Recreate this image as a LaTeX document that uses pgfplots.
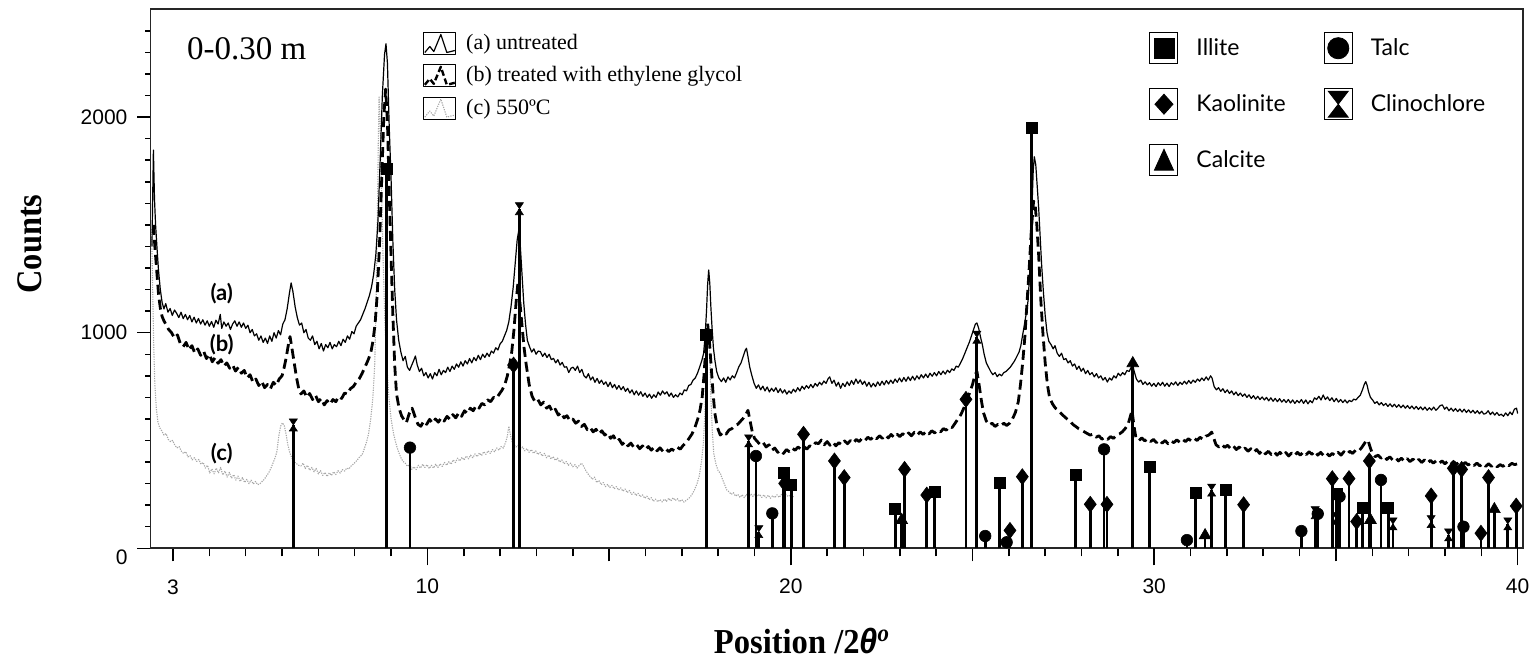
\documentclass[border=0pt]{standalone}
\usepackage{pgfplots}
\pgfplotsset{compat=1.18}
\usepackage{fontspec}
\usepackage{graphicx}
\setmainfont{Liberation Serif}
\newfontfamily\arialf{Liberation Sans}
\newfontfamily\gill{Lato}

\pgfdeclareplotmark{hourglass}{%
 \pgfpathmoveto{\pgfqpoint{-\pgfplotmarksize}{1.5\pgfplotmarksize}}%
 \pgfpathlineto{\pgfqpoint{\pgfplotmarksize}{1.5\pgfplotmarksize}}%
 \pgfpathlineto{\pgfqpoint{-\pgfplotmarksize}{-1.5\pgfplotmarksize}}%
 \pgfpathlineto{\pgfqpoint{\pgfplotmarksize}{-1.5\pgfplotmarksize}}%
 \pgfpathclose
 \pgfusepathqfillstroke}

\pgfplotsset{
 stick/.style={ycomb, black, line width=1.4pt, forget plot, mark options={solid, line width=0.3pt, fill=black}},
 curvea/.style={black, line width=0.6pt, line join=round,
   legend image code/.code={\draw[solid,black,line width=0.4pt] (0pt,-5.5pt) rectangle (16pt,5.5pt);
   \draw[##1] (0.5pt,-4.5pt) -- (3pt,-1.5pt) -- (5pt,-4pt) -- (8.5pt,4.5pt) -- (11.5pt,-4.5pt) -- (15.5pt,-3.5pt);}},
 curveb/.style={black, line width=1.4pt, dash pattern=on 5pt off 2.5pt, line join=round,
   legend image code/.code={\draw[solid,black,line width=0.4pt] (0pt,-5.5pt) rectangle (16pt,5.5pt);
   \draw[##1, dash pattern=on 3pt off 1.5pt, line width=1.2pt] (0.5pt,-4.5pt) -- (3pt,-1.5pt) -- (5pt,-4pt) -- (8.5pt,4.5pt) -- (11.5pt,-4.5pt) -- (15.5pt,-3.5pt);}},
 curvec/.style={gray!70, line width=0.55pt, dash pattern=on 0.6pt off 0.6pt, line join=round,
   legend image code/.code={\draw[solid,black,line width=0.4pt] (0pt,-5.5pt) rectangle (16pt,5.5pt);
   \draw[##1] (0.5pt,-4.5pt) -- (3pt,-1.5pt) -- (5pt,-4pt) -- (8.5pt,4.5pt) -- (11.5pt,-4.5pt) -- (15.5pt,-3.5pt);}},
 minleg/.style={legend image code/.code={\draw[black,line width=0.5pt] (0pt,-7.75pt) rectangle (14pt,7.75pt); #1}},
}

\begin{document}
\begin{tikzpicture}
\path[use as bounding box] (-75.25pt,-56.85pt) rectangle (690.25pt,274.15pt);
\begin{axis}[
 scale only axis, width=686.1pt, height=269.5pt,
 xmin=2.38, xmax=40.14, ymin=0, ymax=2500,
 clip=false,
 axis line style={line width=0.9pt, black!85},
 tick align=outside, tick pos=left,
 every tick/.style={black, line width=0.75pt},
 major tick length=6.5pt, minor tick length=4pt,
 xtick={3,15,25,35}, xticklabels={\raisebox{-2.5pt}[\height][0pt]{3},{},{},{}},
 minor xtick={4,5,6,7,8,9,11,12,13,14,16,17,18,19,21,22,23,24,26,27,28,29,31,32,33,34,36,37,38,39},
 extra x ticks={10,20,30,40}, extra x tick labels={10,20,30,40},
 extra x tick style={major tick length=8.5pt},
 ytick={0,1000,2000}, yticklabels={\raisebox{-4.5pt}[\height][0pt]{0},1000,2000},
 extra y ticks={100,200,300,400,500,600,700,800,900,1100,1200,1300,1400,1500,1600,1700,1800,1900,2100,2200,2300,2400},
 extra y tick labels={},
 extra y tick style={major tick length=2.5pt},
 xticklabel style={font=\arialf\fontsize{10.5}{12}\selectfont, yshift=-3pt},
 yticklabel style={font=\arialf\fontsize{10.5}{12}\selectfont, xshift=-1.5pt},
 legend cell align=left,
 legend style={at={(rel axis cs:0.1986,0.9616)}, anchor=north west, draw=none, fill=none,
   inner sep=0pt, row sep=3pt, font=\fontsize{11}{13}\selectfont,
   /tikz/every odd column/.append style={column sep=3pt}},
]
\addlegendimage{curvea}
\addlegendentry{(a) untreated}
\addlegendimage{curveb}
\addlegendentry{(b) treated with ethylene glycol}
\addlegendimage{curvec}
\addlegendentry{(c) 550ºC}
% (c) 550 C
\addplot[curvec, forget plot]
coordinates {
(2.41,1480) (2.44,1200) (2.47,930) (2.50,760) (2.54,650) (2.58,590) (2.63,560) (2.69,545) (2.75,525) (2.81,532) (2.87,505) (2.93,495) (2.99,500)
(3.05,478) (3.11,466) (3.17,472) (3.23,450) (3.29,440) (3.35,448) (3.41,424) (3.47,430) (3.53,410) (3.59,420) (3.65,403) (3.71,412) (3.77,390)
(3.83,398) (3.89,372) (3.95,385) (4.01,349) (4.07,368) (4.13,345) (4.19,372) (4.25,350) (4.31,375) (4.37,340) (4.43,358) (4.49,330) (4.55,352)
(4.61,325) (4.67,342) (4.73,316) (4.79,335) (4.85,310) (4.91,328) (4.97,305) (5.03,320) (5.09,300) (5.15,316) (5.21,298) (5.27,310) (5.33,295)
(5.39,299) (5.45,310) (5.51,320) (5.57,335) (5.63,349) (5.69,370) (5.75,395) (5.81,420) (5.86,450) (5.91,520) (5.96,566) (6.01,582) (6.06,570)
(6.11,530) (6.16,480) (6.22,440) (6.28,416) (6.34,400) (6.40,392) (6.46,385) (6.52,382) (6.58,395) (6.64,370) (6.70,385) (6.76,362) (6.82,375)
(6.88,355) (6.94,370) (7.00,345) (7.06,360) (7.12,338) (7.18,352) (7.24,333) (7.30,350) (7.36,338) (7.42,355) (7.48,342) (7.54,360) (7.60,349)
(7.66,365) (7.72,358) (7.78,372) (7.84,368) (7.90,382) (7.96,390) (8.02,400) (8.08,412) (8.14,425) (8.20,433) (8.26,460) (8.32,490) (8.38,530)
(8.44,600) (8.50,700) (8.55,850) (8.59,1150) (8.62,1500) (8.65,1900) (8.67,2097) (8.70,1950) (8.74,1650) (8.78,1350) (8.83,1050) (8.88,860)
(8.94,700) (9.00,600) (9.07,530) (9.14,482) (9.20,450) (9.27,420) (9.33,403) (9.39,395) (9.45,380) (9.51,390) (9.57,366) (9.63,378) (9.69,365)
(9.75,385) (9.81,372) (9.87,390) (9.93,375) (9.99,388) (10.05,370) (10.11,385) (10.17,372) (10.23,390) (10.29,375) (10.35,392) (10.41,380)
(10.47,398) (10.53,385) (10.59,402) (10.65,390) (10.71,410) (10.77,398) (10.83,418) (10.89,405) (10.95,422) (11.01,410) (11.07,428) (11.13,415)
(11.19,432) (11.25,420) (11.31,438) (11.37,425) (11.43,442) (11.49,430) (11.55,448) (11.61,436) (11.67,452) (11.73,440) (11.79,458) (11.85,448)
(11.91,465) (11.97,455) (12.03,472) (12.09,465) (12.15,490) (12.20,520) (12.24,566) (12.28,530) (12.33,495) (12.38,482) (12.44,470) (12.50,478)
(12.56,460) (12.62,470) (12.68,452) (12.74,462) (12.80,445) (12.86,458) (12.92,440) (12.98,452) (13.04,435) (13.10,445) (13.16,428) (13.22,440)
(13.28,420) (13.34,432) (13.40,414) (13.46,425) (13.52,408) (13.58,418) (13.64,400) (13.70,410) (13.76,392) (13.82,402) (13.88,385) (13.94,395)
(14.00,378) (14.06,388) (14.12,372) (14.18,385) (14.24,395) (14.30,380) (14.36,360) (14.42,345) (14.48,332) (14.54,320) (14.60,330) (14.66,305)
(14.72,315) (14.78,295) (14.84,305) (14.90,286) (14.96,296) (15.02,282) (15.08,292) (15.14,276) (15.20,286) (15.26,270) (15.32,280) (15.38,265)
(15.44,275) (15.50,258) (15.56,268) (15.62,250) (15.68,260) (15.74,245) (15.80,255) (15.86,239) (15.92,248) (15.98,232) (16.04,242) (16.10,225)
(16.16,235) (16.22,218) (16.28,228) (16.34,216) (16.40,226) (16.46,215) (16.52,228) (16.58,218) (16.64,232) (16.70,220) (16.76,234) (16.82,222)
(16.88,230) (16.94,216) (17.00,226) (17.06,214) (17.12,222) (17.18,230) (17.24,240) (17.30,255) (17.36,275) (17.42,300) (17.48,335) (17.54,400)
(17.59,480) (17.63,600) (17.67,800) (17.71,960) (17.74,997) (17.77,900) (17.80,700) (17.84,540) (17.88,440) (17.94,390) (18.00,360) (18.06,348)
(18.12,320) (18.18,295) (18.24,270) (18.30,262) (18.36,250) (18.42,258) (18.48,242) (18.54,250) (18.60,236) (18.66,248) (18.72,235) (18.78,250)
(18.84,238) (18.90,252) (18.96,240) (19.02,255) (19.08,242) (19.14,250) (19.20,236) (19.26,248) (19.32,234) (19.38,246) (19.44,232) (19.50,244)
(19.56,235) (19.62,248) (19.68,236) (19.74,250) (19.80,238) (19.86,252) (19.92,240) (19.98,246) (20.04,239) (20.08,240)
};
% (a) untreated
\addplot[curvea, forget plot]
coordinates {
(2.42,1400) (2.46,1847) (2.49,1620) (2.52,1500) (2.56,1390) (2.60,1290) (2.65,1200) (2.70,1140) (2.75,1110) (2.80,1135) (2.86,1095) (2.92,1112)
(2.98,1080) (3.04,1105) (3.10,1090) (3.16,1070) (3.22,1095) (3.28,1065) (3.34,1085) (3.40,1060) (3.46,1080) (3.52,1050) (3.58,1072) (3.64,1045)
(3.70,1066) (3.76,1040) (3.82,1060) (3.88,1035) (3.94,1055) (4.00,1030) (4.06,1052) (4.12,1025) (4.18,1058) (4.24,1040) (4.30,1085) (4.34,1020)
(4.40,1050) (4.46,1030) (4.52,1045) (4.58,1015) (4.64,1040) (4.70,1055) (4.76,1030) (4.82,1050) (4.88,1025) (4.94,1045) (5.00,1020) (5.06,1035)
(5.12,1000) (5.18,1015) (5.24,985) (5.30,995) (5.36,965) (5.42,985) (5.48,955) (5.54,975) (5.60,950) (5.66,985) (5.72,960) (5.78,1000) (5.84,975)
(5.90,1010) (5.96,990) (6.02,1040) (6.08,1060) (6.14,1110) (6.20,1180) (6.25,1231) (6.30,1190) (6.36,1120) (6.42,1070) (6.48,1035) (6.54,1045)
(6.60,1000) (6.66,1015) (6.72,975) (6.78,965) (6.84,985) (6.90,945) (6.96,960) (7.02,925) (7.08,950) (7.14,915) (7.20,945) (7.26,930) (7.32,955)
(7.38,925) (7.44,945) (7.50,935) (7.56,960) (7.62,940) (7.68,970) (7.74,955) (7.80,985) (7.86,970) (7.92,1005) (7.98,995) (8.04,1030) (8.10,1045)
(8.16,1060) (8.22,1085) (8.28,1110) (8.34,1140) (8.40,1170) (8.46,1210) (8.52,1270) (8.58,1360) (8.64,1520) (8.70,1800) (8.76,2100) (8.82,2290)
(8.86,2340) (8.90,2250) (8.95,1950) (9.00,1714) (9.05,1420) (9.10,1200) (9.15,1060) (9.21,965) (9.27,910) (9.33,870) (9.39,890) (9.45,840)
(9.51,825) (9.57,850) (9.62,870) (9.67,892) (9.72,850) (9.78,820) (9.84,835) (9.90,800) (9.96,815) (10.02,790) (10.08,810) (10.14,785) (10.20,815)
(10.26,800) (10.32,830) (10.38,805) (10.44,825) (10.50,815) (10.56,840) (10.62,820) (10.68,845) (10.74,830) (10.80,855) (10.86,840) (10.92,865)
(10.98,845) (11.04,870) (11.10,855) (11.16,880) (11.22,860) (11.28,885) (11.34,870) (11.40,895) (11.46,875) (11.52,900) (11.58,885) (11.64,905)
(11.70,890) (11.76,915) (11.82,905) (11.88,930) (11.94,920) (12.00,948) (12.06,960) (12.12,985) (12.18,1010) (12.24,1050) (12.30,1120) (12.36,1210)
(12.42,1330) (12.47,1430) (12.51,1470) (12.55,1420) (12.60,1280) (12.65,1140) (12.70,1040) (12.75,965) (12.81,935) (12.87,910) (12.93,925)
(12.99,900) (13.05,915) (13.11,912) (13.17,890) (13.23,905) (13.29,885) (13.35,900) (13.41,875) (13.47,881) (13.53,860) (13.59,875) (13.65,850)
(13.71,862) (13.77,840) (13.83,842) (13.89,815) (13.95,835) (14.01,840) (14.07,825) (14.13,845) (14.19,815) (14.25,830) (14.31,800) (14.37,790)
(14.43,810) (14.49,781) (14.55,795) (14.61,770) (14.67,788) (14.73,765) (14.79,780) (14.85,760) (14.91,772) (14.97,750) (15.03,770) (15.09,745)
(15.15,760) (15.21,738) (15.27,755) (15.33,735) (15.39,750) (15.45,728) (15.51,742) (15.57,720) (15.63,735) (15.69,712) (15.75,730) (15.81,710)
(15.87,726) (15.93,705) (15.99,720) (16.05,700) (16.11,715) (16.17,696) (16.23,712) (16.29,700) (16.35,725) (16.41,710) (16.47,730) (16.53,715)
(16.59,726) (16.65,705) (16.71,720) (16.77,700) (16.83,712) (16.89,702) (16.95,720) (17.01,712) (17.07,735) (17.13,730) (17.19,755) (17.25,760)
(17.31,780) (17.37,790) (17.43,811) (17.49,840) (17.55,870) (17.60,904) (17.64,980) (17.68,1100) (17.71,1220) (17.74,1291) (17.77,1230)
(17.80,1120) (17.83,1030) (17.87,930) (17.91,873) (17.96,820) (18.02,790) (18.09,773) (18.15,790) (18.21,770) (18.27,795) (18.33,781) (18.39,800)
(18.45,790) (18.51,815) (18.57,842) (18.63,860) (18.69,890) (18.75,920) (18.78,928) (18.82,890) (18.87,840) (18.93,800) (18.99,765) (19.05,742)
(19.11,758) (19.17,735) (19.23,752) (19.29,730) (19.35,748) (19.41,725) (19.47,742) (19.53,728) (19.59,745) (19.65,722) (19.71,740) (19.77,720)
(19.83,735) (19.89,715) (19.95,730) (20.01,719) (20.07,738) (20.13,725) (20.19,745) (20.25,730) (20.31,752) (20.37,738) (20.43,755) (20.49,742)
(20.55,760) (20.61,745) (20.67,765) (20.73,752) (20.79,770) (20.85,758) (20.91,776) (20.97,765) (21.03,788) (21.07,795) (21.13,765) (21.19,780)
(21.25,752) (21.31,770) (21.37,742) (21.43,765) (21.49,750) (21.55,772) (21.61,755) (21.67,778) (21.73,760) (21.79,785) (21.85,765) (21.91,781)
(21.97,760) (22.03,775) (22.09,752) (22.15,770) (22.21,748) (22.27,765) (22.33,750) (22.39,772) (22.45,755) (22.51,775) (22.57,758) (22.63,778)
(22.69,762) (22.75,780) (22.81,765) (22.87,785) (22.93,770) (22.99,790) (23.05,772) (23.11,792) (23.17,775) (23.23,795) (23.29,778) (23.35,798)
(23.41,780) (23.47,800) (23.53,785) (23.59,805) (23.65,790) (23.71,808) (23.77,792) (23.83,812) (23.89,798) (23.95,815) (24.01,800) (24.07,820)
(24.13,805) (24.19,822) (24.25,808) (24.31,826) (24.37,815) (24.43,832) (24.49,825) (24.55,845) (24.61,840) (24.67,860) (24.73,880) (24.79,905)
(24.85,930) (24.91,955) (24.97,985) (25.03,1015) (25.08,1040) (25.12,1045) (25.17,1020) (25.22,980) (25.27,945) (25.32,900) (25.38,860) (25.44,840)
(25.50,820) (25.56,805) (25.62,815) (25.68,796) (25.74,808) (25.80,800) (25.86,815) (25.92,820) (25.98,830) (26.04,840) (26.10,855) (26.16,870)
(26.22,890) (26.28,910) (26.33,940) (26.38,990) (26.43,1040) (26.48,1090) (26.53,1150) (26.58,1300) (26.63,1550) (26.67,1750) (26.70,1816)
(26.74,1780) (26.78,1680) (26.82,1580) (26.86,1450) (26.90,1320) (26.95,1190) (27.00,1080) (27.05,1000) (27.10,960) (27.16,945) (27.22,925)
(27.27,940) (27.33,905) (27.39,890) (27.45,905) (27.51,875) (27.57,880) (27.63,860) (27.69,870) (27.75,845) (27.81,855) (27.87,830) (27.93,845)
(27.99,821) (28.05,835) (28.11,810) (28.17,825) (28.23,805) (28.29,815) (28.35,795) (28.41,810) (28.47,790) (28.53,800) (28.59,780) (28.65,792)
(28.71,771) (28.77,790) (28.83,780) (28.89,800) (28.95,790) (29.01,812) (29.07,800) (29.13,815) (29.19,805) (29.25,825) (29.31,820) (29.37,840)
(29.41,848) (29.45,820) (29.51,785) (29.57,771) (29.63,780) (29.69,760) (29.75,772) (29.81,758) (29.87,768) (29.93,752) (29.99,765) (30.05,750)
(30.11,768) (30.17,755) (30.23,770) (30.29,752) (30.35,766) (30.41,750) (30.47,768) (30.53,758) (30.59,772) (30.65,755) (30.71,770) (30.77,760)
(30.83,775) (30.89,762) (30.95,778) (31.01,765) (31.07,780) (31.13,770) (31.19,785) (31.25,775) (31.31,790) (31.37,778) (31.43,795) (31.49,780)
(31.55,800) (31.59,790) (31.65,750) (31.71,735) (31.77,745) (31.83,728) (31.89,740) (31.95,722) (32.01,735) (32.07,718) (32.13,730) (32.19,712)
(32.25,725) (32.31,708) (32.37,720) (32.43,705) (32.49,716) (32.55,700) (32.61,712) (32.67,695) (32.73,708) (32.79,692) (32.85,705) (32.91,690)
(32.97,702) (33.03,688) (33.09,700) (33.15,684) (33.21,698) (33.27,682) (33.33,695) (33.39,680) (33.45,694) (33.51,678) (33.57,690) (33.63,676)
(33.69,690) (33.75,674) (33.81,688) (33.87,672) (33.93,686) (33.99,675) (34.05,690) (34.11,672) (34.17,688) (34.23,670) (34.29,685) (34.35,675)
(34.41,698) (34.47,690) (34.53,705) (34.59,688) (34.65,711) (34.71,690) (34.77,702) (34.83,685) (34.89,698) (34.95,680) (35.01,695) (35.07,678)
(35.13,690) (35.19,676) (35.25,688) (35.31,674) (35.37,686) (35.43,680) (35.49,692) (35.55,688) (35.61,700) (35.67,710) (35.73,735) (35.78,760)
(35.82,773) (35.86,755) (35.90,725) (35.95,700) (36.01,688) (36.07,672) (36.13,680) (36.19,665) (36.25,676) (36.31,662) (36.37,672) (36.43,658)
(36.49,670) (36.55,656) (36.61,668) (36.67,654) (36.73,666) (36.79,652) (36.85,664) (36.91,650) (36.97,662) (37.03,648) (37.09,660) (37.15,646)
(37.21,658) (37.27,644) (37.33,656) (37.39,642) (37.45,655) (37.51,640) (37.57,652) (37.63,641) (37.69,655) (37.75,640) (37.81,650) (37.87,662)
(37.93,665) (37.99,645) (38.05,655) (38.11,638) (38.17,650) (38.23,636) (38.29,648) (38.35,634) (38.41,646) (38.47,632) (38.53,645) (38.59,630)
(38.65,642) (38.71,628) (38.77,640) (38.83,626) (38.89,638) (38.95,624) (39.01,636) (39.07,622) (39.13,626) (39.19,638) (39.25,620) (39.31,632)
(39.37,618) (39.43,630) (39.49,616) (39.55,622) (39.61,612) (39.67,628) (39.73,615) (39.79,632) (39.85,620) (39.91,645) (39.97,650) (40.00,625)
};
% (b) ethylene glycol
\addplot[curveb, forget plot]
coordinates {
(2.46,1500) (2.50,1400) (2.55,1290) (2.60,1180) (2.65,1114) (2.70,1075) (2.75,1055) (2.80,1040) (2.88,1015) (2.96,1000) (3.04,975) (3.12,990)
(3.20,950) (3.28,935) (3.36,955) (3.44,920) (3.52,940) (3.60,905) (3.68,925) (3.76,895) (3.84,915) (3.92,880) (4.00,900) (4.08,865) (4.16,885)
(4.24,858) (4.32,875) (4.40,845) (4.48,860) (4.56,835) (4.64,850) (4.72,822) (4.80,840) (4.88,812) (4.96,825) (5.04,790) (5.12,805) (5.20,770)
(5.28,785) (5.36,755) (5.44,775) (5.52,745) (5.60,760) (5.68,740) (5.76,770) (5.84,755) (5.92,785) (6.00,800) (6.06,840) (6.12,890) (6.18,950)
(6.22,982) (6.27,930) (6.33,865) (6.40,790) (6.46,740) (6.52,716) (6.60,730) (6.68,700) (6.76,718) (6.84,690) (6.92,710) (7.00,680) (7.08,695)
(7.16,665) (7.24,685) (7.32,668) (7.40,690) (7.48,680) (7.56,705) (7.64,695) (7.72,720) (7.80,715) (7.88,740) (7.96,750) (8.04,770) (8.12,785)
(8.20,810) (8.28,840) (8.36,870) (8.44,905) (8.50,960) (8.56,1040) (8.62,1180) (8.68,1400) (8.74,1700) (8.80,2000) (8.85,2130) (8.90,1980)
(8.95,1650) (9.00,1350) (9.05,1080) (9.10,850) (9.15,716) (9.22,650) (9.29,614) (9.36,595) (9.42,582) (9.50,625) (9.58,650) (9.66,610)
(9.74,575) (9.82,566) (9.90,590) (9.98,575) (10.06,598) (10.14,580) (10.22,600) (10.30,585) (10.38,605) (10.46,590) (10.54,612) (10.62,598)
(10.70,620) (10.78,605) (10.86,628) (10.94,612) (11.02,638) (11.10,625) (11.18,650) (11.26,638) (11.34,662) (11.42,650) (11.50,672) (11.58,665)
(11.66,688) (11.74,680) (11.82,700) (11.90,695) (11.98,716) (12.06,735) (12.14,765) (12.20,800) (12.26,850) (12.32,910) (12.38,1010) (12.44,1140)
(12.49,1230) (12.54,1150) (12.60,1040) (12.66,930) (12.72,850) (12.80,760) (12.88,705) (12.96,680) (13.04,690) (13.12,665) (13.20,678) (13.28,650)
(13.36,660) (13.44,632) (13.52,645) (13.60,618) (13.68,630) (13.76,605) (13.84,615) (13.92,592) (14.00,600) (14.08,580) (14.16,590) (14.24,565)
(14.32,575) (14.40,550) (14.48,560) (14.56,540) (14.64,552) (14.72,530) (14.80,545) (14.88,525) (14.96,535) (15.04,510) (15.12,522) (15.20,495)
(15.28,505) (15.36,482) (15.44,495) (15.52,475) (15.60,488) (15.68,468) (15.76,480) (15.84,462) (15.92,475) (16.00,458) (16.08,472) (16.16,455)
(16.24,470) (16.32,452) (16.40,466) (16.48,450) (16.56,462) (16.64,448) (16.72,460) (16.80,452) (16.88,468) (16.96,460) (17.04,478) (17.12,490)
(17.20,510) (17.28,530) (17.36,560) (17.44,600) (17.50,640) (17.56,700) (17.61,800) (17.66,930) (17.71,1043) (17.76,960) (17.81,840) (17.86,720)
(17.91,626) (17.98,560) (18.06,525) (18.14,540) (18.22,530) (18.30,549) (18.38,555) (18.46,570) (18.54,575) (18.62,590) (18.70,605) (18.76,620)
(18.82,640) (18.88,590) (18.94,540) (19.00,510) (19.08,495) (19.16,480) (19.24,490) (19.32,470) (19.40,480) (19.48,455) (19.56,465) (19.64,445)
(19.72,455) (19.80,440) (19.88,458) (19.96,448) (20.04,464) (20.12,455) (20.20,470) (20.28,458) (20.36,472) (20.44,460) (20.52,475) (20.60,470)
(20.68,490) (20.76,485) (20.84,502) (20.92,480) (21.00,495) (21.08,478) (21.16,492) (21.24,475) (21.32,490) (21.40,480) (21.48,498) (21.56,485)
(21.64,500) (21.72,488) (21.80,505) (21.88,495) (21.96,510) (22.04,500) (22.12,515) (22.20,505) (22.28,520) (22.36,508) (22.44,522) (22.52,510)
(22.60,525) (22.68,512) (22.76,528) (22.84,515) (22.92,530) (23.00,518) (23.08,532) (23.16,520) (23.24,535) (23.32,522) (23.40,538) (23.48,525)
(23.56,540) (23.64,528) (23.72,542) (23.80,530) (23.88,545) (23.96,535) (24.04,548) (24.12,540) (24.20,555) (24.28,548) (24.36,565) (24.44,560)
(24.52,580) (24.60,600) (24.68,620) (24.76,650) (24.84,690) (24.92,720) (25.00,760) (25.06,800) (25.12,821) (25.18,760) (25.24,690) (25.30,630)
(25.38,590) (25.46,572) (25.54,580) (25.62,565) (25.70,575) (25.78,568) (25.86,580) (25.94,570) (26.02,580) (26.10,600) (26.18,630) (26.26,680)
(26.32,760) (26.38,860) (26.44,980) (26.50,1140) (26.56,1300) (26.62,1480) (26.68,1610) (26.72,1600) (26.77,1500) (26.82,1360) (26.88,1150)
(26.94,990) (27.00,860) (27.06,760) (27.12,700) (27.20,670) (27.28,650) (27.36,640) (27.44,625) (27.52,612) (27.60,600) (27.68,590) (27.76,575)
(27.84,565) (27.92,555) (28.00,548) (28.08,540) (28.16,532) (28.24,525) (28.32,530) (28.40,515) (28.48,522) (28.56,506) (28.64,515) (28.72,505)
(28.80,518) (28.88,510) (28.96,525) (29.04,530) (29.12,540) (29.20,555) (29.28,575) (29.34,610) (29.39,640) (29.44,570) (29.50,510) (29.58,500)
(29.66,512) (29.74,498) (29.82,508) (29.90,495) (29.98,505) (30.06,490) (30.14,502) (30.22,488) (30.30,500) (30.38,485) (30.46,498) (30.54,490)
(30.62,503) (30.70,492) (30.78,505) (30.86,495) (30.94,508) (31.02,498) (31.10,510) (31.18,500) (31.26,515) (31.34,505) (31.42,520) (31.50,525)
(31.58,539) (31.64,510) (31.70,480) (31.78,470) (31.86,482) (31.94,468) (32.02,478) (32.10,462) (32.18,474) (32.26,458) (32.34,470) (32.42,455)
(32.50,465) (32.58,450) (32.66,462) (32.74,446) (32.82,458) (32.90,440) (32.98,455) (33.06,438) (33.14,450) (33.22,435) (33.30,448) (33.38,432)
(33.46,445) (33.54,430) (33.62,444) (33.70,428) (33.78,442) (33.86,430) (33.94,445) (34.02,432) (34.10,446) (34.18,434) (34.26,448) (34.34,436)
(34.42,450) (34.50,432) (34.58,445) (34.66,430) (34.74,442) (34.82,428) (34.90,440) (34.98,430) (35.06,445) (35.14,432) (35.22,448) (35.30,436)
(35.38,450) (35.46,440) (35.54,455) (35.62,450) (35.70,465) (35.76,480) (35.82,495) (35.88,502) (35.94,470) (36.00,440) (36.08,425) (36.16,432)
(36.24,418) (36.32,428) (36.40,412) (36.48,424) (36.56,410) (36.64,420) (36.72,405) (36.80,418) (36.88,404) (36.96,416) (37.04,402) (37.12,414)
(37.20,400) (37.28,412) (37.36,398) (37.44,410) (37.52,396) (37.60,408) (37.68,395) (37.76,406) (37.84,394) (37.92,405) (38.00,392) (38.08,404)
(38.16,390) (38.24,402) (38.32,390) (38.40,400) (38.48,388) (38.56,398) (38.64,386) (38.72,396) (38.80,384) (38.88,395) (38.96,382) (39.04,393)
(39.12,380) (39.20,392) (39.28,380) (39.36,390) (39.44,378) (39.52,388) (39.60,380) (39.68,392) (39.76,383) (39.84,394) (39.92,388) (40.00,392)
};
% Reference patterns
\addplot[stick, mark=square*, mark size=2.75pt] coordinates {
(8.88,1762) (17.67,992) (19.80,348) (20.01,294) (22.87,185) (23.95,262) (25.74,303) (26.63,1949) (27.83,340) (29.87,380) (31.14,257) (31.96,269) (35.02,255) (35.73,188) (36.44,188)};
\addplot[stick, mark=diamond*, mark size=4pt] coordinates {
(12.37,850) (19.83,301) (20.35,529) (21.20,405) (21.47,328) (23.13,366) (23.74,247) (24.82,691) (26.03,83) (26.37,332) (28.24,204) (28.70,204) (32.46,202) (34.90,323) (35.36,323) (35.57,124) (35.92,405) (37.62,243) (38.23,371) (38.46,366) (38.99,70) (39.20,328) (39.96,196)};
\addplot[stick, mark=*, mark size=2.9pt] coordinates {
(9.52,467) (19.04,428) (19.49,162) (25.35,57) (25.94,28) (28.62,459) (30.90,38) (34.05,80) (34.50,160) (35.10,240) (36.24,317) (38.51,100)};
\addplot[stick, mark=hourglass, mark size=2pt] coordinates {
(6.31,572) (12.53,1575) (18.84,498) (19.12,77) (25.12,979) (31.58,270) (34.43,165) (35.00,139) (36.57,113) (37.62,124) (38.10,62) (39.73,113)};
\addplot[stick, mark=triangle*, mark size=3.4pt] coordinates {
(23.05,131) (29.41,858) (31.40,60) (35.95,131) (39.36,181)};
% annotations
\node[font=\fontsize{16.5}{18}\selectfont] at (axis cs:5.03,2316) {0-0.30 m};
\node[font=\gill\bfseries\fontsize{11}{13}\selectfont] at (axis cs:4.34,1183) {(a)};
\node[font=\gill\bfseries\fontsize{11}{13}\selectfont] at (axis cs:4.34,943) {(b)};
\node[font=\gill\bfseries\fontsize{11}{13}\selectfont] at (axis cs:4.34,441) {(c)};
\node[rotate=90, font=\bfseries\fontsize{18}{20}\selectfont] at (rel axis cs:-0.0878,0.5646) {\scalebox{0.9}[1]{Counts}};
\node[anchor=base, inner sep=0pt, font=\bfseries\fontsize{17.5}{19}\selectfont] at (rel axis cs:0.4748,-0.1961) {\scalebox{0.93}[1]{Position /2{\arialf\bfseries\itshape θ}\textsuperscript{\textit{o}}}};
\end{axis}
\begin{axis}[scale only axis, width=686.1pt, height=269.5pt, hide axis,
 xmin=0, xmax=1, ymin=0, ymax=1,
 legend columns=2, legend cell align=left,
 legend style={at={(rel axis cs:0.7277,0.9582)}, anchor=north west, draw=none, fill=none,
  inner sep=0pt, row sep=12pt, font=\gill\fontsize{11.5}{13}\selectfont,
  /tikz/every odd column/.append style={column sep=7pt},
  /tikz/every even column/.append style={column sep=17pt}}]
\addlegendimage{minleg={\fill[black] (2pt,-5pt) rectangle (12pt,5pt);}}
\addlegendentry{Illite}
\addlegendimage{minleg={\fill[black] (7pt,0pt) circle (5.3pt);}}
\addlegendentry{Talc}
\addlegendimage{minleg={\fill[black] (7pt,5pt) -- (11.5pt,0pt) -- (7pt,-5pt) -- (2.5pt,0pt) -- cycle;}}
\addlegendentry{Kaolinite}
\addlegendimage{minleg={\fill[black] (2pt,6.5pt) -- (12pt,6.5pt) -- (2pt,-6.5pt) -- (12pt,-6.5pt) -- cycle;}}
\addlegendentry{Clinochlore}
\addlegendimage{minleg={\fill[black] (7pt,5.5pt) -- (11.8pt,-5pt) -- (2.2pt,-5pt) -- cycle;}}
\addlegendentry{Calcite}
\end{axis}
\end{tikzpicture}
\end{document}
